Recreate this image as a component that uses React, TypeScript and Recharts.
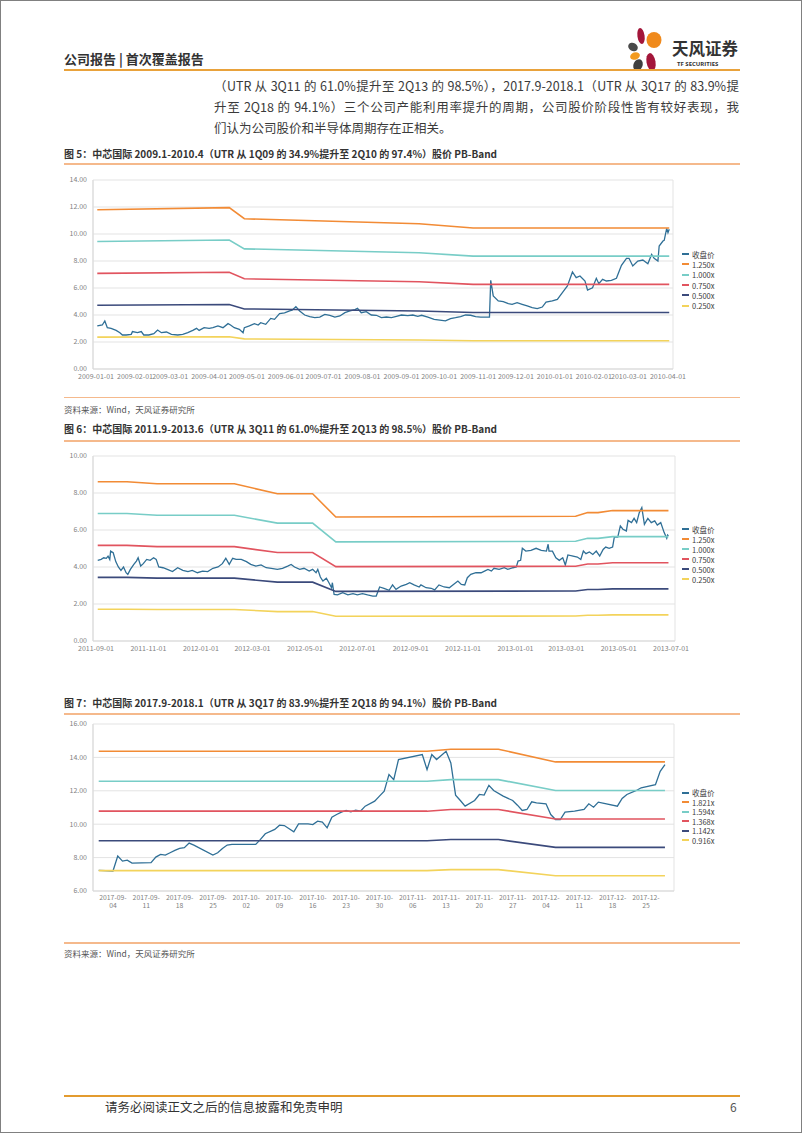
import React from 'react';
import { LineChart, Line, XAxis, YAxis, CartesianGrid, Legend } from 'recharts';

const FONT = '"Noto Sans CJK SC", "Noto Sans", sans-serif';
const DAY = 86400000;
const ts = (d: string) => Date.parse(d);

// ---------- 图5：2009.1-2010.4 ----------
const p1Dates = [
    '2009-01-02', '2009-01-06', '2009-01-08', '2009-01-10', '2009-01-13', '2009-01-17', '2009-01-20', '2009-01-22', '2009-01-25', '2009-01-29',
    '2009-01-30', '2009-02-03', '2009-02-06', '2009-02-08', '2009-02-12', '2009-02-16', '2009-02-19', '2009-02-22', '2009-02-26', '2009-03-02',
    '2009-03-07', '2009-03-11', '2009-03-15', '2009-03-19', '2009-03-22', '2009-03-24', '2009-03-28', '2009-04-01', '2009-04-04', '2009-04-08',
    '2009-04-12', '2009-04-16', '2009-04-18', '2009-04-21', '2009-04-25', '2009-04-28', '2009-04-29', '2009-05-03', '2009-05-07', '2009-05-10',
    '2009-05-12', '2009-05-16', '2009-05-20', '2009-05-23', '2009-05-27', '2009-05-31', '2009-06-04', '2009-06-06', '2009-06-09', '2009-06-12',
    '2009-06-16', '2009-06-20', '2009-06-24', '2009-06-28', '2009-07-02', '2009-07-06', '2009-07-10', '2009-07-14', '2009-07-18', '2009-07-22',
    '2009-07-26', '2009-07-28', '2009-07-31', '2009-08-04', '2009-08-08', '2009-08-12', '2009-08-16', '2009-08-20', '2009-08-24', '2009-08-28',
    '2009-09-01', '2009-09-06', '2009-09-10', '2009-09-14', '2009-09-17', '2009-09-22', '2009-09-27', '2009-10-03', '2009-10-06', '2009-10-10',
    '2009-10-14', '2009-10-18', '2009-10-22', '2009-10-26', '2009-10-30', '2009-11-03', '2009-11-07', '2009-11-10', '2009-11-11', '2009-11-13',
    '2009-11-17', '2009-11-21', '2009-11-25', '2009-11-28', '2009-12-02', '2009-12-06', '2009-12-10', '2009-12-14', '2009-12-18', '2009-12-22',
    '2009-12-25', '2009-12-30', '2010-01-03', '2010-01-07', '2010-01-11', '2010-01-15', '2010-01-18', '2010-01-21', '2010-01-25', '2010-01-27',
    '2010-01-31', '2010-02-03', '2010-02-05', '2010-02-08', '2010-02-11', '2010-02-15', '2010-02-19', '2010-02-23', '2010-02-27', '2010-03-01',
    '2010-03-04', '2010-03-08', '2010-03-12', '2010-03-16', '2010-03-19', '2010-03-21', '2010-03-24', '2010-03-25', '2010-03-28', '2010-03-29',
    '2010-03-31', '2010-04-01', '2010-04-02',
];
const p1Close = [
    3.19, 3.26, 3.56, 3.06, 3.01, 2.86, 2.69, 2.52, 2.52, 2.57,
    2.77, 2.69, 2.77, 2.52, 2.52, 2.62, 2.89, 2.69, 2.74, 2.57,
    2.52, 2.57, 2.69, 2.86, 3.01, 2.86, 3.06, 3.01, 3.06, 3.19,
    3.06, 3.36, 3.26, 3.06, 2.94, 2.69, 3.06, 3.19, 3.36, 3.26,
    3.43, 3.31, 3.75, 3.68, 4.10, 4.15, 4.30, 4.35, 4.62, 4.30,
    4.00, 3.88, 3.80, 3.85, 4.05, 3.98, 3.85, 3.93, 4.17, 4.30,
    4.40, 4.49, 4.17, 4.25, 4.00, 3.98, 3.80, 3.85, 3.80, 3.90,
    4.00, 3.95, 4.00, 3.90, 3.98, 3.85, 3.68, 3.60, 3.56, 3.73,
    3.80, 3.88, 4.00, 3.98, 3.88, 3.85, 3.85, 3.85, 6.57, 5.41,
    5.04, 4.99, 4.84, 4.79, 4.91, 4.79, 4.67, 4.54, 4.47, 4.59,
    4.96, 5.04, 5.16, 5.65, 6.15, 7.19, 6.77, 6.89, 6.52, 5.85,
    6.02, 6.72, 6.32, 6.64, 6.52, 6.57, 6.72, 7.68, 8.20, 8.20,
    7.63, 8.00, 8.07, 7.80, 8.49, 8.20, 8.00, 9.11, 9.48, 9.53,
    10.42, 10.10, 10.35,
];
const b1Dates = ['2009-01-02', '2009-04-17', '2009-04-29', '2009-09-15', '2009-10-28', '2010-04-02'];
const b1x1250 = [11.80, 11.95, 11.13, 10.76, 10.45, 10.45];
const b1x1000 = [9.44, 9.56, 8.90, 8.61, 8.36, 8.36];
const b1x0750 = [7.08, 7.17, 6.68, 6.46, 6.27, 6.27];
const b1x0500 = [4.72, 4.78, 4.45, 4.30, 4.18, 4.18];
const b1x0250 = [2.36, 2.39, 2.23, 2.15, 2.09, 2.09];
const x1Ticks = [
    '2009-01-01', '2009-02-01', '2009-03-01', '2009-04-01', '2009-05-01', '2009-06-01', '2009-07-01', '2009-08-01',
    '2009-09-01', '2009-10-01', '2009-11-01', '2009-12-01', '2010-01-01', '2010-02-01', '2010-03-01', '2010-04-01',
];
const y1Ticks = [0, 2, 4, 6, 8, 10, 12, 14];

// ---------- 图6：2011.9-2013.6 ----------
const p2Dates = [
    '2011-09-03', '2011-09-07', '2011-09-10', '2011-09-13', '2011-09-15', '2011-09-17', '2011-09-18', '2011-09-21', '2011-09-24', '2011-09-27',
    '2011-09-30', '2011-10-03', '2011-10-06', '2011-10-08', '2011-10-11', '2011-10-15', '2011-10-18', '2011-10-20', '2011-10-23', '2011-10-26',
    '2011-10-30', '2011-11-03', '2011-11-07', '2011-11-10', '2011-11-13', '2011-11-18', '2011-11-23', '2011-11-29', '2011-12-05', '2011-12-11',
    '2011-12-17', '2011-12-22', '2011-12-28', '2012-01-03', '2012-01-09', '2012-01-15', '2012-01-21', '2012-01-26', '2012-01-30', '2012-02-03',
    '2012-02-07', '2012-02-11', '2012-02-17', '2012-02-23', '2012-02-28', '2012-03-05', '2012-03-11', '2012-03-17', '2012-03-23', '2012-03-30',
    '2012-04-05', '2012-04-11', '2012-04-15', '2012-04-19', '2012-04-25', '2012-04-30', '2012-05-06', '2012-05-10', '2012-05-14', '2012-05-16',
    '2012-05-19', '2012-05-22', '2012-05-26', '2012-05-29', '2012-06-01', '2012-06-02', '2012-06-04', '2012-06-08', '2012-06-14', '2012-06-20',
    '2012-06-26', '2012-07-01', '2012-07-07', '2012-07-13', '2012-07-19', '2012-07-23', '2012-07-27', '2012-08-01', '2012-08-07', '2012-08-11',
    '2012-08-15', '2012-08-21', '2012-08-27', '2012-08-31', '2012-09-05', '2012-09-11', '2012-09-13', '2012-09-19', '2012-09-25', '2012-09-29',
    '2012-10-04', '2012-10-10', '2012-10-16', '2012-10-22', '2012-10-26', '2012-10-30', '2012-11-03', '2012-11-06', '2012-11-10', '2012-11-16',
    '2012-11-22', '2012-11-26', '2012-11-30', '2012-12-04', '2012-12-07', '2012-12-13', '2012-12-19', '2012-12-23', '2012-12-29', '2013-01-02',
    '2013-01-04', '2013-01-07', '2013-01-09', '2013-01-13', '2013-01-19', '2013-01-25', '2013-01-31', '2013-02-06', '2013-02-08', '2013-02-09',
    '2013-02-13', '2013-02-17', '2013-02-21', '2013-02-25', '2013-02-28', '2013-03-03', '2013-03-09', '2013-03-14', '2013-03-18', '2013-03-21',
    '2013-03-24', '2013-03-28', '2013-04-01', '2013-04-05', '2013-04-09', '2013-04-13', '2013-04-16', '2013-04-20', '2013-04-24', '2013-04-26',
    '2013-04-30', '2013-05-03', '2013-05-06', '2013-05-10', '2013-05-12', '2013-05-16', '2013-05-19', '2013-05-22', '2013-05-25', '2013-05-28',
    '2013-05-31', '2013-06-04', '2013-06-08', '2013-06-12', '2013-06-15', '2013-06-19', '2013-06-23', '2013-06-26', '2013-06-27', '2013-06-28',
];
const p2Close = [
    4.36, 4.41, 4.50, 4.47, 4.59, 4.41, 4.86, 4.77, 4.29, 4.00,
    3.82, 4.00, 3.69, 3.60, 3.87, 4.14, 4.32, 4.50, 4.05, 4.18,
    4.41, 4.36, 4.50, 4.41, 4.00, 3.96, 3.87, 3.75, 3.96, 3.82,
    3.75, 3.82, 3.69, 3.78, 3.75, 3.93, 4.00, 4.18, 4.47, 4.14,
    4.47, 4.41, 4.41, 4.29, 4.14, 4.05, 4.11, 3.96, 3.93, 3.87,
    3.93, 4.05, 4.14, 4.00, 3.87, 3.93, 3.78, 3.87, 3.69, 3.87,
    3.46, 3.24, 3.39, 3.15, 2.88, 3.15, 2.52, 2.49, 2.61, 2.49,
    2.56, 2.49, 2.56, 2.49, 2.43, 2.43, 2.92, 2.85, 2.74, 3.03,
    2.79, 2.97, 3.06, 3.15, 3.03, 2.92, 3.03, 2.88, 2.85, 2.76,
    3.03, 2.92, 2.88, 3.10, 3.24, 3.06, 3.03, 3.42, 3.60, 3.69,
    3.69, 3.78, 3.87, 3.78, 3.93, 3.87, 3.96, 3.87, 3.96, 4.00,
    4.32, 4.36, 5.01, 4.86, 4.90, 5.01, 4.90, 4.86, 5.23, 4.86,
    4.86, 4.50, 4.36, 4.50, 4.11, 4.65, 4.59, 4.54, 4.41, 4.86,
    4.72, 4.81, 4.68, 4.86, 4.59, 4.95, 5.08, 5.01, 5.08, 5.62,
    5.62, 6.22, 6.04, 5.95, 6.52, 6.40, 6.63, 6.40, 6.94, 7.21,
    6.31, 6.63, 6.40, 6.49, 6.27, 6.40, 5.86, 5.55, 5.73, 5.68,
];
const b2Dates = [
    '2011-09-03', '2011-10-07', '2011-11-11', '2012-02-09', '2012-03-30', '2012-05-10',
    '2012-06-06', '2013-03-12', '2013-03-26', '2013-04-07', '2013-04-24', '2013-06-28',
];
const b2x1250 = [8.61, 8.61, 8.50, 8.50, 7.96, 7.96, 6.70, 6.74, 6.94, 6.94, 7.05, 7.05];
const b2x1000 = [6.89, 6.89, 6.80, 6.80, 6.37, 6.37, 5.36, 5.39, 5.55, 5.55, 5.64, 5.64];
const b2x0750 = [5.17, 5.17, 5.10, 5.10, 4.78, 4.78, 4.02, 4.04, 4.16, 4.16, 4.23, 4.23];
const b2x0500 = [3.44, 3.44, 3.40, 3.40, 3.18, 3.18, 2.68, 2.70, 2.78, 2.78, 2.82, 2.82];
const b2x0250 = [1.72, 1.72, 1.70, 1.70, 1.59, 1.59, 1.34, 1.35, 1.39, 1.39, 1.41, 1.41];
const x2Ticks = [
    '2011-09-01', '2011-11-01', '2012-01-01', '2012-03-01', '2012-05-01', '2012-07-01',
    '2012-09-01', '2012-11-01', '2013-01-01', '2013-03-01', '2013-05-01', '2013-07-01',
];
const y2Ticks = [0, 2, 4, 6, 8, 10];

// ---------- 图7：2017.9-2018.1 ----------
const p3Dates = [
    '2017-09-01', '2017-09-04', '2017-09-05', '2017-09-06', '2017-09-07', '2017-09-08', '2017-09-12', '2017-09-13', '2017-09-14', '2017-09-15',
    '2017-09-16', '2017-09-17', '2017-09-18', '2017-09-19', '2017-09-20', '2017-09-21', '2017-09-25', '2017-09-26', '2017-09-27', '2017-09-28',
    '2017-09-29', '2017-10-04', '2017-10-05', '2017-10-06', '2017-10-08', '2017-10-09', '2017-10-10', '2017-10-12', '2017-10-13', '2017-10-15',
    '2017-10-16', '2017-10-17', '2017-10-18', '2017-10-19', '2017-10-20', '2017-10-21', '2017-10-22', '2017-10-23', '2017-10-24', '2017-10-25',
    '2017-10-26', '2017-10-27', '2017-10-29', '2017-10-30', '2017-10-31', '2017-11-01', '2017-11-02', '2017-11-03', '2017-11-08', '2017-11-09',
    '2017-11-10', '2017-11-11', '2017-11-13', '2017-11-14', '2017-11-15', '2017-11-16', '2017-11-17', '2017-11-19', '2017-11-20', '2017-11-21',
    '2017-11-22', '2017-11-23', '2017-11-25', '2017-11-27', '2017-11-28', '2017-11-29', '2017-11-30', '2017-12-01', '2017-12-02', '2017-12-04',
    '2017-12-05', '2017-12-06', '2017-12-07', '2017-12-08', '2017-12-10', '2017-12-12', '2017-12-13', '2017-12-14', '2017-12-15', '2017-12-19',
    '2017-12-20', '2017-12-21', '2017-12-23', '2017-12-24', '2017-12-27', '2017-12-28', '2017-12-29',
];
const p3Close = [
    7.24, 7.20, 8.09, 7.79, 7.85, 7.67, 7.70, 8.03, 8.19, 8.15,
    8.29, 8.43, 8.55, 8.59, 8.87, 8.75, 8.15, 8.29, 8.55, 8.75,
    8.79, 8.79, 9.09, 9.43, 9.69, 9.94, 9.92, 9.55, 10.02, 10.02,
    9.98, 10.18, 10.12, 9.78, 10.42, 10.58, 10.72, 10.82, 10.74, 10.84,
    10.78, 11.08, 11.38, 11.68, 11.98, 12.97, 12.67, 13.87, 14.17, 13.27,
    14.17, 13.87, 14.37, 13.67, 11.74, 11.42, 11.08, 11.42, 11.78, 11.74,
    12.33, 12.02, 11.68, 11.42, 11.14, 10.82, 10.88, 11.34, 11.28, 11.22,
    10.58, 10.28, 10.28, 10.72, 10.78, 10.88, 11.22, 11.02, 11.32, 11.08,
    11.54, 11.78, 12.02, 12.18, 12.37, 13.17, 13.57,
];
const b3Dates = ['2017-09-01', '2017-11-09', '2017-11-14', '2017-11-24', '2017-12-06', '2017-12-29'];
const b3x1821 = [14.37, 14.37, 14.49, 14.49, 13.73, 13.73];
const b3x1594 = [12.57, 12.57, 12.67, 12.67, 12.02, 12.02];
const b3x1368 = [10.78, 10.78, 10.88, 10.88, 10.31, 10.31];
const b3x1142 = [9.01, 9.01, 9.08, 9.08, 8.61, 8.61];
const b3x0916 = [7.22, 7.22, 7.28, 7.28, 6.91, 6.91];
const x3Ticks = [
    '2017-09-04', '2017-09-11', '2017-09-18', '2017-09-25', '2017-10-02', '2017-10-09', '2017-10-16', '2017-10-23', '2017-10-30',
    '2017-11-06', '2017-11-13', '2017-11-20', '2017-11-27', '2017-12-04', '2017-12-11', '2017-12-18', '2017-12-25',
];
const y3Ticks = [6, 8, 10, 12, 14, 16];

const CLOSE_NAME = '收盘价';
const C_CLOSE = '#2f6f96';
const BAND_COLORS = ['#f28b35', '#78cdc7', '#e1545f', '#3b4a7b', '#f3d35b'];

type Pt = { t: number; v: number };
const zip = (dates: string[], vals: number[]): Pt[] => dates.map((d, i) => ({ t: ts(d), v: vals[i] }));
const iso = (t: number) => new Date(t).toISOString().slice(0, 10);

// keeps the legend in series order (close price first, then bands high → low)
const LegendBox = ({ payload, gap, order }: any) => {
    const items = [...(payload || [])].sort((a: any, b: any) => order.indexOf(a.value) - order.indexOf(b.value));
    return (
        <div style={{ fontFamily: FONT, fontSize: 7.5, color: '#404040' }}>
            {items.map((p: any) => (
                <div key={p.value} style={{ display: 'flex', alignItems: 'center', height: gap }}>
                    <span style={{ display: 'inline-block', width: 7, height: 2, background: p.color, marginRight: 3 }} />
                    {p.value}
                </div>
            ))}
        </div>
    );
};

const TwoLineTick = ({ x, y, payload }: any) => {
    const s = iso(payload.value);
    return (
        <text x={x} y={y} textAnchor="middle" fontSize={6.8} fill="#7f7f7f" fontFamily={FONT}>
            <tspan x={x} dy={8.5}>{s.slice(0, 8)}</tspan>
            <tspan x={x} dy={8.5}>{s.slice(8)}</tspan>
        </text>
    );
};

type BandProps = {
    top: number;
    height: number;
    right: number;
    xAxisHeight: number;
    close: Pt[];
    bands: { name: string; data: Pt[] }[];
    xTicks: string[];
    xDomain: [number, number];
    yDomain: [number, number];
    yTicks: number[];
    legendTop: number;
    legendGap: number;
    twoLine?: boolean;
};

function PbBand(props: BandProps) {
    const tickStyle = { fontSize: 7, fill: '#7f7f7f', fontFamily: FONT };
    const order = [CLOSE_NAME, ...props.bands.map(b => b.name)];
    return (
        <div style={{ position: 'absolute', left: 0, top: props.top }}>
            <LineChart width={802} height={props.height} margin={{ top: 9, right: props.right, bottom: 0, left: 62 }}>
                <CartesianGrid
                    stroke="#e3e3e3"
                    verticalCoordinatesGenerator={({ offset }: any) => [offset.left, offset.left + offset.width]}
                />
                <XAxis
                    dataKey="t"
                    type="number"
                    domain={props.xDomain}
                    ticks={props.xTicks.map(ts)}
                    allowDataOverflow
                    interval={0}
                    height={props.xAxisHeight}
                    axisLine={{ stroke: '#d9d9d9' }}
                    tickLine={false}
                    tickSize={0}
                    tickMargin={props.twoLine ? 0 : 5.5}
                    tick={props.twoLine ? <TwoLineTick /> : tickStyle}
                    tickFormatter={(t: number) => iso(t)}
                />
                <YAxis
                    type="number"
                    domain={props.yDomain}
                    ticks={props.yTicks}
                    width={30}
                    axisLine={{ stroke: '#d9d9d9' }}
                    tickLine={false}
                    tickSize={0}
                    tickMargin={6}
                    tick={tickStyle}
                    tickFormatter={(v: number) => v.toFixed(2)}
                />
                <Legend
                    layout="vertical"
                    align="center"
                    verticalAlign="middle"
                    wrapperStyle={{ left: 681, top: props.legendTop, width: 60 }}
                    content={(p: any) => <LegendBox {...p} gap={props.legendGap} order={order} />}
                />
                <Line data={props.close} dataKey="v" name={CLOSE_NAME} stroke={C_CLOSE} strokeWidth={1.3}
                    dot={false} activeDot={false} isAnimationActive={false} />
                {props.bands.map((b, i) => (
                    <Line key={b.name} data={b.data} dataKey="v" name={b.name} stroke={BAND_COLORS[i]} strokeWidth={1.6}
                        dot={false} activeDot={false} isAnimationActive={false} />
                ))}
            </LineChart>
        </div>
    );
}

const Caption = ({ top, children }: { top: number; children: React.ReactNode }) => (
    <div style={{ position: 'absolute', left: 63, top, fontSize: 10, lineHeight: '14px', fontWeight: 700, color: '#333', whiteSpace: 'nowrap' }}>
        {children}
    </div>
);
const Rule = ({ top, color, h }: { top: number; color: string; h: number }) => (
    <div style={{ position: 'absolute', left: 63, top, width: 676, height: h, background: color }} />
);
const Source = ({ top }: { top: number }) => (
    <div style={{ position: 'absolute', left: 63, top, fontSize: 8.5, lineHeight: '12px', color: '#555', whiteSpace: 'nowrap' }}>
        资料来源：Wind，天风证券研究所
    </div>
);

function Logo() {
    return (
        <svg width={44} height={46} style={{ position: 'absolute', left: 626, top: 26 }} viewBox="0 0 44 46">
            <ellipse cx={14} cy={9} rx={3.6} ry={8} fill="#a3163a" transform="rotate(-8 14 9)" />
            <ellipse cx={27} cy={13} rx={7.5} ry={8} fill="#f08a1c" />
            <ellipse cx={6} cy={20} rx={5} ry={4} fill="#4a4a4a" transform="rotate(30 6 20)" />
            <ellipse cx={8} cy={29} rx={5} ry={3.6} fill="#f39a1e" transform="rotate(-20 8 29)" />
            <ellipse cx={11} cy={38} rx={4.5} ry={6} fill="#3f3f3f" transform="rotate(25 11 38)" />
            <ellipse cx={24} cy={35} rx={4.5} ry={9} fill="#a3163a" transform="rotate(-10 24 35)" />
        </svg>
    );
}

export default function App() {
    const band = (dates: string[], arrs: number[][], names: string[]) =>
        arrs.map((a, i) => ({ name: names[i], data: zip(dates, a) }));
    const n1 = ['1.250x', '1.000x', '0.750x', '0.500x', '0.250x'];
    const n3 = ['1.821x', '1.594x', '1.368x', '1.142x', '0.916x'];
    const para = { position: 'absolute' as const, left: 213, width: 525, fontSize: 12.5, lineHeight: '21px', color: '#3a3a3a', whiteSpace: 'nowrap' as const };

    return (
        <div style={{ position: 'absolute', left: 0, top: 0, width: 802, height: 1133, background: '#fff', border: '1px solid #808080', boxSizing: 'border-box', fontFamily: FONT, overflow: 'hidden' }}>
            {/* header */}
            <div style={{ position: 'absolute', left: 63, top: 49, fontSize: 13, lineHeight: '18px', fontWeight: 700, color: '#333' }}>公司报告 | 首次覆盖报告</div>
            <Logo />
            <div style={{ position: 'absolute', left: 671, top: 37, fontSize: 16.5, lineHeight: '20px', fontWeight: 700, color: '#333' }}>天风证券</div>
            <div style={{ position: 'absolute', left: 676, top: 59, fontSize: 6, lineHeight: '8px', fontWeight: 700, color: '#333', fontFamily: '"Open Sans", sans-serif' }}>TF SECURITIES</div>
            <Rule top={68} color="#e9a23b" h={2} />

            <div style={{ ...para, top: 74, textAlign: 'justify', textAlignLast: 'justify' }}>（UTR 从 3Q11 的 61.0%提升至 2Q13 的 98.5%），2017.9-2018.1（UTR 从 3Q17 的 83.9%提</div>
            <div style={{ ...para, top: 95, textAlign: 'justify', textAlignLast: 'justify' }}>升至 2Q18 的 94.1%）三个公司产能利用率提升的周期，公司股价阶段性皆有较好表现，我</div>
            <div style={{ ...para, top: 116 }}>们认为公司股价和半导体周期存在正相关。</div>

            {/* figure 5 */}
            <Caption top={146}>图 5：中芯国际 2009.1-2010.4（UTR 从 1Q09 的 34.9%提升至 2Q10 的 97.4%）股价 PB-Band</Caption>
            <Rule top={162} color="#f5b98c" h={1.5} />
            <PbBand
                top={170} height={218} right={130} xAxisHeight={20}
                close={zip(p1Dates, p1Close)}
                bands={band(b1Dates, [b1x1250, b1x1000, b1x0750, b1x0500, b1x0250], n1)}
                xTicks={x1Ticks}
                xDomain={[ts('2009-01-01') - 2.4 * DAY, ts('2009-01-01') + 459 * DAY]}
                yDomain={[0, 14]} yTicks={y1Ticks}
                legendTop={78} legendGap={10.3}
            />
            <Rule top={395.5} color="#f5b98c" h={1.5} />
            <Source top={402} />

            {/* figure 6 */}
            <Caption top={421}>图 6：中芯国际 2011.9-2013.6（UTR 从 3Q11 的 61.0%提升至 2Q13 的 98.5%）股价 PB-Band</Caption>
            <Rule top={439} color="#f5b98c" h={1.5} />
            <PbBand
                top={446} height={214} right={128} xAxisHeight={20}
                close={zip(p2Dates, p2Close)}
                bands={band(b2Dates, [b2x1250, b2x1000, b2x0750, b2x0500, b2x0250], n1)}
                xTicks={x2Ticks}
                xDomain={[ts('2011-09-01') - 3.5 * DAY, ts('2011-09-01') + 673.6 * DAY]}
                yDomain={[0, 10]} yTicks={y2Ticks}
                legendTop={77} legendGap={10}
            />

            {/* figure 7 */}
            <Caption top={695}>图 7：中芯国际 2017.9-2018.1（UTR 从 3Q17 的 83.9%提升至 2Q18 的 94.1%）股价 PB-Band</Caption>
            <Rule top={712} color="#f5b98c" h={1.5} />
            <PbBand
                top={714} height={202} right={129} xAxisHeight={26}
                close={zip(p3Dates, p3Close)}
                bands={band(b3Dates, [b3x1821, b3x1594, b3x1368, b3x1142, b3x0916], n3)}
                xTicks={x3Ticks}
                xDomain={[ts('2017-09-04') - 4.2 * DAY, ts('2017-09-04') + 117.9 * DAY]}
                yDomain={[6, 16]} yTicks={y3Ticks}
                legendTop={73} legendGap={9.5}
                twoLine
            />
            <Rule top={941} color="#f5b98c" h={1.5} />
            <Source top={946} />

            {/* footer */}
            <Rule top={1094} color="#e39b2f" h={2} />
            <div style={{ position: 'absolute', left: 104, top: 1097, fontSize: 12.5, lineHeight: '18px', color: '#333' }}>请务必阅读正文之后的信息披露和免责申明</div>
            <div style={{ position: 'absolute', left: 729, top: 1097, fontSize: 12, lineHeight: '18px', color: '#555' }}>6</div>
        </div>
    );
}
